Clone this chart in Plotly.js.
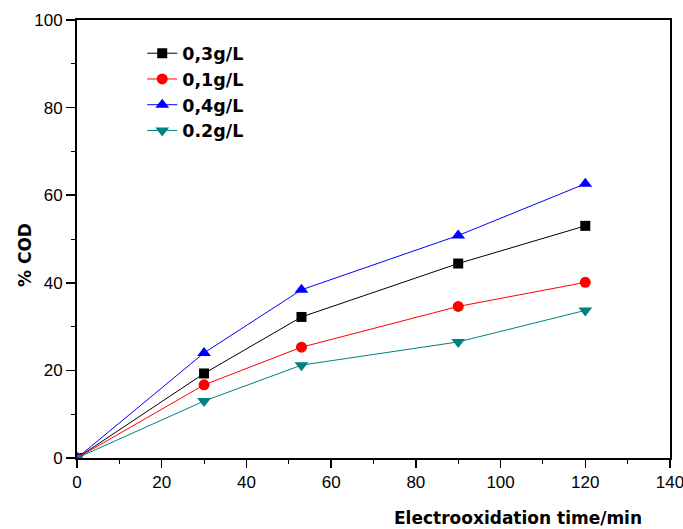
<!DOCTYPE html>
<html><head><meta charset="utf-8">
<script src="https://cdn.plot.ly/plotly-3.0.1.min.js"></script>
<style>body{margin:0;background:#fff}#c{width:683px;height:529px}</style>
</head><body><div id="c"></div>
<script>
const times = [0, 30, 53, 90, 120];
const s03 = [0, 19.3, 32.2, 44.4, 53.0];
const s01 = [0, 16.7, 25.3, 34.6, 40.1];
const s04 = [0, 24.0, 38.4, 50.8, 62.6];
const s02 = [0, 13.0, 21.2, 26.5, 33.7];
const names = ['0,3g/L', '0,1g/L', '0,4g/L', '0.2g/L'];
const xTitle = 'Electrooxidation time/min';
const yTitle = '% COD';

const mk = (y, name, color, symbol, size) => ({
  x: times, y: y, name: name, type: 'scatter', mode: 'lines+markers',
  line: {color: color, width: 1},
  marker: {color: color, symbol: symbol, size: size}
});
const traces = [
  mk(s03, names[0], '#000000', 'square', 10),
  mk(s01, names[1], '#ff0000', 'circle', 11),
  mk(s04, names[2], '#0000ff', 'triangle-up', 12),
  mk(s02, names[3], '#008080', 'triangle-down', 12)
];
const font = {family: 'DejaVu Sans, Liberation Sans, sans-serif', color: '#000'};
const tickFont = {family: 'Liberation Sans, Arial, sans-serif', color: '#000', size: 17};
const bold = (s) => Object.assign({size: s, weight: 'bold'}, font);
const axisBase = {
  ticks: 'outside', ticklen: 9, tickwidth: 1.5, tickcolor: '#000',
  showline: true, linewidth: 2, linecolor: '#000', showgrid: false, zeroline: false,
  mirror: true, ticklabeloverflow: 'allow',
  minor: {dtick: 10, ticks: 'outside', ticklen: 4, tickwidth: 1, tickcolor: '#000'},
  tickfont: tickFont
};
const layout = {
  width: 683, height: 529,
  margin: {l: 77, r: 13, t: 20, b: 71},
  paper_bgcolor: '#fff', plot_bgcolor: '#fff',
  font: Object.assign({size: 15}, font),
  showlegend: true,
  legend: {x: 0.11, y: 0.965, xanchor: 'left', yanchor: 'top', bgcolor: 'rgba(0,0,0,0)',
           font: bold(17.5), tracegroupgap: 0},
  xaxis: Object.assign({range: [0, 140], dtick: 20}, axisBase, {ticklen: 8}),
  yaxis: Object.assign({range: [0, 100], dtick: 20}, axisBase),
  annotations: [{
    text: xTitle, xref: 'paper', yref: 'paper',
    x: 0.743, y: -0.137, xanchor: 'center', yanchor: 'middle', showarrow: false,
    font: bold(17)
  }, {
    text: yTitle, xref: 'paper', yref: 'paper', textangle: -90,
    x: -0.088, y: 0.463, xanchor: 'center', yanchor: 'middle', showarrow: false,
    font: bold(17)
  }]
};
Plotly.newPlot('c', traces, layout, {displayModeBar: false, staticPlot: true});
</script></body></html>
